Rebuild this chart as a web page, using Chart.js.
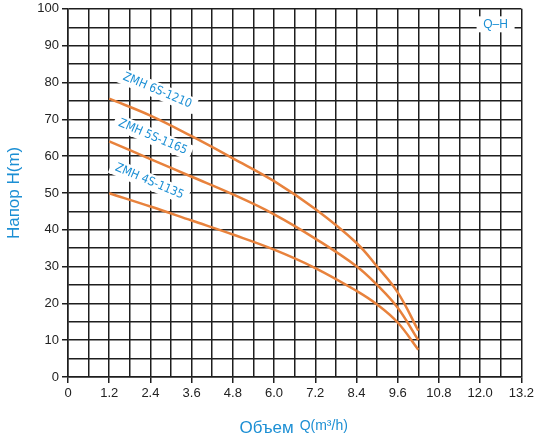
<!DOCTYPE html>
<html>
<head>
<meta charset="utf-8">
<script src="https://cdn.jsdelivr.net/npm/chart.js@4/dist/chart.umd.min.js"></script>
<style>
  html, body { margin: 0; padding: 0; background: #fff; }
  #wrap { width: 537px; height: 436px; }
</style>
</head>
<body>
<div id="wrap"><canvas id="myChart"></canvas></div>
<script>
// pump curves, values
const flow = [1.2, 2.4, 3.6, 4.8, 6.0, 7.2, 8.4, 9.0, 9.6, 10.2];
const head6S = [75.6, 71, 65.4, 59.4, 53.2, 45.6, 36.4, 30, 23, 12.6];
const head5S = [64, 59.2, 54.4, 49.6, 44.2, 37.6, 30.1, 25, 18.8, 10];
const head4S = [49.9, 46.3, 42.5, 38.7, 34.6, 29.6, 23.4, 19.7, 14.8, 7.4];
const seriesNames = ["ZMH 6S-1210", "ZMH 5S-1165", "ZMH 4S-1135"];

// axes
const xGrid = [0, 0.6, 1.2, 1.8, 2.4, 3.0, 3.6, 4.2, 4.8, 5.4, 6.0, 6.6, 7.2, 7.8, 8.4, 9.0, 9.6, 10.2, 10.8, 11.4, 12.0, 12.6, 13.2];
const xTickLabels = ["0", "", "1.2", "", "2.4", "", "3.6", "", "4.8", "", "6.0", "", "7.2", "", "8.4", "", "9.6", "", "10.8", "", "12.0", "", "13.2"];
const yGrid = [0, 5, 10, 15, 20, 25, 30, 35, 40, 45, 50, 55, 60, 65, 70, 75, 80, 85, 90, 95, 100];
const yTickLabels = ["0", "", "10", "", "20", "", "30", "", "40", "", "50", "", "60", "", "70", "", "80", "", "90", "", "100"];

// where the curve names sit (data coords)
const labelSpots = [[2.6, 77.8], [2.47, 65.2], [2.37, 53.1]];

const orange = "#e8823c";
const blue = "#1c8fd4";
const gridCol = "#1e1e1e";
const fontFam = "'Liberation Sans', Arial, sans-serif";

// white boxes with the rotated curve names, the Q-H tag and the x title
const curveLabels = {
  id: "curveLabels",
  afterDatasetsDraw(chart) {
    const c = chart.ctx;
    const xs = chart.scales.x, ys = chart.scales.y;
    c.save();
    c.font = "12px 'Liberation Sans Narrow', 'DejaVu Sans Condensed', sans-serif";
    c.textAlign = "center";
    c.textBaseline = "middle";
    labelSpots.forEach((p, i) => {
      const px = xs.getPixelForValue(p[0]);
      const py = ys.getPixelForValue(p[1]);
      const w = c.measureText(seriesNames[i]).width;
      c.save();
      c.translate(px, py);
      c.rotate(23 * Math.PI / 180);
      c.fillStyle = "#fff";
      c.fillRect(-w / 2 - 5, -8, w + 10, 16);
      c.fillStyle = blue;
      c.fillText(seriesNames[i], 0, 0);
      c.restore();
    });
    // Q-H tag
    const tx = xs.getPixelForValue(12.45), ty = ys.getPixelForValue(95.8);
    c.font = "12px " + fontFam;
    c.fillStyle = "#fff";
    c.fillRect(tx - 19, ty - 8, 38, 16);
    c.fillStyle = blue;
    c.fillText("Q–H", tx, ty);

    // x title, two sizes like the original
    c.textAlign = "left";
    c.textBaseline = "alphabetic";
    c.font = "17px " + fontFam;
    const w1 = c.measureText("Объем").width;
    c.font = "14px " + fontFam;
    const w2 = c.measureText("Q(m³/h)").width;
    const x0 = (xs.left + xs.right) / 2 - (w1 + 6 + w2) / 2 - 1;
    c.fillStyle = blue;
    c.font = "17px " + fontFam;
    c.fillText("Объем", x0, 433);
    c.font = "14px " + fontFam;
    c.fillText("Q(m³/h)", x0 + w1 + 6, 430);
    c.restore();
  }
};

function mk(label, heads) {
  return {
    label: label,
    data: flow.map((q, i) => ({ x: q, y: heads[i] })),
    borderColor: orange,
    borderWidth: 2.5,
    pointRadius: 0,
    tension: 0.4,
    fill: false
  };
}

const ctx = document.getElementById("myChart");
const myChart = new Chart(ctx, {
  type: "line",
  data: {
    datasets: [mk(seriesNames[0], head6S), mk(seriesNames[1], head5S), mk(seriesNames[2], head4S)]
  },
  options: {
    responsive: true,
    maintainAspectRatio: false,
    animation: false,
    layout: { padding: { top: 0, right: 11, left: 0, bottom: 0 } },
    plugins: { legend: { display: false }, tooltip: { enabled: false } },
    scales: {
      x: {
        type: "linear",
        min: 0,
        max: 13.2,
        afterBuildTicks: (s) => { s.ticks = xGrid.map(v => ({ value: v })); },
        afterFit: (s) => { s.height = 59; },
        ticks: {
          autoSkip: false,
          maxRotation: 0,
          padding: 3,
          color: "#222",
          font: { family: fontFam, size: 13 },
          callback: (v, i) => xTickLabels[i]
        },
        grid: {
          color: gridCol,
          lineWidth: 1.5,
          tickLength: 6,
          tickColor: (c) => (xTickLabels[c.index] ? gridCol : "rgba(0,0,0,0)")
        },
        border: { color: gridCol, width: 1.5 },
        title: { display: false }
      },
      y: {
        type: "linear",
        min: 0,
        max: 100,
        afterBuildTicks: (s) => { s.ticks = yGrid.map(v => ({ value: v })); },
        afterFit: (s) => { s.width = 68; },
        ticks: {
          autoSkip: false,
          padding: 3,
          color: "#222",
          font: { family: fontFam, size: 13, lineHeight: 0.9 },
          callback: (v, i) => yTickLabels[i]
        },
        grid: {
          color: gridCol,
          lineWidth: 1.5,
          tickLength: 6,
          tickColor: (c) => (yTickLabels[c.index] ? gridCol : "rgba(0,0,0,0)")
        },
        border: { color: gridCol, width: 1.5 },
        title: {
          display: true,
          text: "Напор H(m)",
          color: blue,
          font: { family: fontFam, size: 17 },
          padding: { top: 4, bottom: 0 }
        }
      }
    }
  },
  plugins: [curveLabels]
});
</script>
</body>
</html>
